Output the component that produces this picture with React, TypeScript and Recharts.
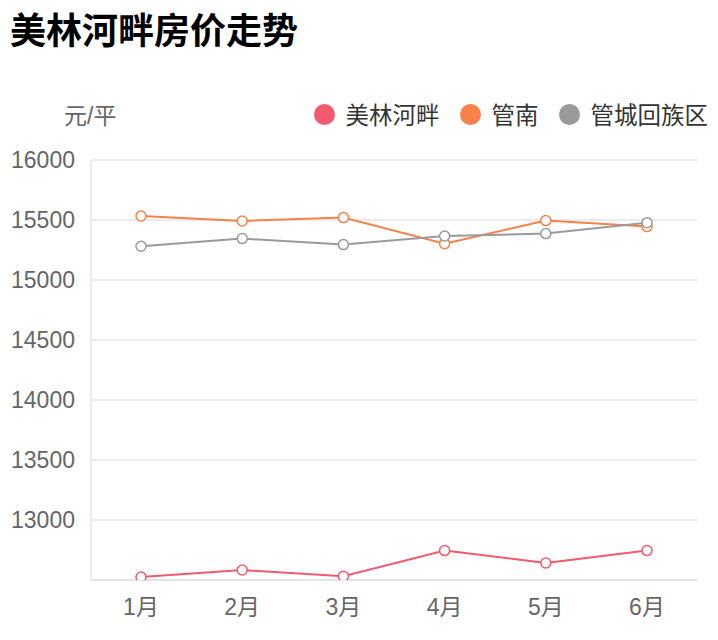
import React from 'react';
import { LineChart, Line, XAxis, YAxis, CartesianGrid } from 'recharts';

const months = ['1月', '2月', '3月', '4月', '5月', '6月'];
const meilinHepan = [12525, 12583, 12531, 12745, 12642, 12745];
const guannan = [15533, 15492, 15520, 15303, 15495, 15445];
const guanchengDistrict = [15281, 15345, 15295, 15367, 15387, 15478];
const yTicks = [13000, 13500, 14000, 14500, 15000, 15500, 16000];

const SERIES = [
  { key: 'meilin', name: '美林河畔', color: '#f25a6e', values: meilinHepan },
  { key: 'guannan', name: '管南', color: '#fa8049', values: guannan },
  { key: 'guancheng', name: '管城回族区', color: '#9a9a9a', values: guanchengDistrict },
];

const chartData = months.map((m, i) => {
  const row: any = { month: m };
  SERIES.forEach(s => { row[s.key] = s.values[i]; });
  return row;
});

const FONT = '"Liberation Sans", Arial, "Noto Sans CJK SC", sans-serif';

export default function App() {
  return (
    <div style={{ position: 'absolute', left: 0, top: 0, width: 718, height: 640, background: '#fff', fontFamily: FONT }}>
      <div style={{ position: 'absolute', left: 10, top: 2, fontSize: 36, fontWeight: 'bold', color: '#000', fontFamily: '"Noto Sans CJK SC", sans-serif' }}>
        美林河畔房价走势
      </div>
      <div style={{ position: 'absolute', left: 64, top: 97, fontSize: 23, color: '#666' }}>元/平</div>
      {/* legend */}
      <div style={{ position: 'absolute', right: 10, top: 97, display: 'flex', alignItems: 'center' }}>
        {SERIES.map(s => (
          <div key={s.key} style={{ display: 'flex', alignItems: 'center', marginLeft: 20 }}>
            <span style={{ width: 21, height: 21, borderRadius: 11, background: s.color, display: 'inline-block', marginRight: 11 }} />
            <span style={{ fontSize: 23.5, color: '#333' }}>{s.name}</span>
          </div>
        ))}
      </div>
      <LineChart width={718} height={640} data={chartData} margin={{ top: 160, right: 21, left: 0, bottom: 0 }}>
        <CartesianGrid stroke="#e6e6e6" strokeWidth={1.5} vertical={false} />
        <XAxis
          dataKey="month"
          height={60}
          padding={{ left: 50, right: 50 }}
          axisLine={{ stroke: '#e0e0e0', strokeWidth: 1.5 }}
          tickLine={false}
          tickMargin={13}
          tick={{ fill: '#666', fontSize: 23, fontFamily: FONT }}
        />
        <YAxis
          width={91}
          domain={[12500, 16000]}
          ticks={yTicks}
          axisLine={{ stroke: '#e6e6e6', strokeWidth: 1.5 }}
          tickLine={false}
          tickMargin={10}
          tick={{ fill: '#666', fontSize: 23, fontFamily: FONT }}
          allowDataOverflow
        />
        {SERIES.map(s => (
          <Line
            key={s.key}
            dataKey={s.key}
            name={s.name}
            stroke={s.color}
            strokeWidth={2}
            dot={{ r: 5, fill: '#fff', stroke: s.color, strokeWidth: 1.5 }}
            isAnimationActive={false}
          />
        ))}
      </LineChart>
    </div>
  );
}
